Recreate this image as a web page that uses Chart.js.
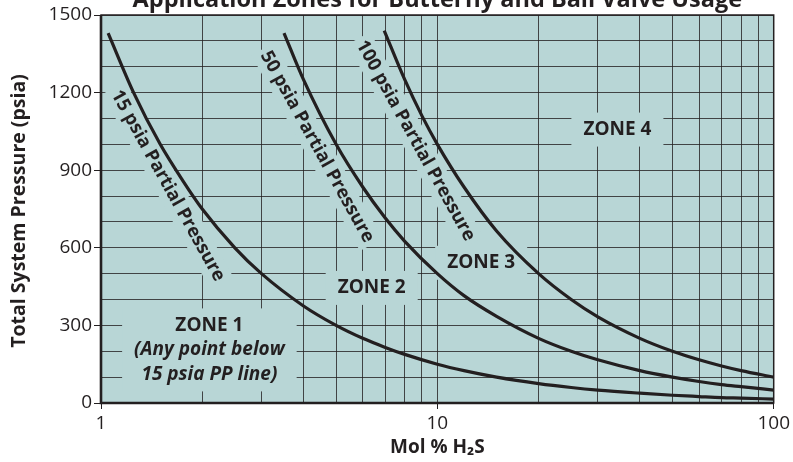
<!DOCTYPE html>
<html>
<head>
<meta charset="utf-8">
<script src="https://cdn.jsdelivr.net/npm/chart.js@4"></script>
<style>
  html, body { margin: 0; padding: 0; background: #fff; }
  #wrap { width: 793px; height: 462px; }
</style>
</head>
<body>
<div id="wrap"><canvas id="zones"></canvas></div>
<script>
// values (Mol % H2S vs total system pressure, psia)
const mol15 = [1.05, 1.25, 1.5, 1.75, 2, 2.5, 3, 4, 5, 6, 7, 8, 10, 12, 15, 20, 25, 30, 40, 50, 60, 70, 80, 100];
const psi15 = [1430, 1200, 1000, 860, 750, 600, 500, 375, 300, 250, 215, 188, 150, 125, 100, 75, 60, 50, 38, 30, 25, 21, 19, 15];

const mol50 = [3.5, 4, 5, 6, 7, 8, 10, 12, 15, 20, 25, 30, 40, 50, 60, 70, 80, 100];
const psi50 = [1430, 1250, 1000, 835, 715, 625, 500, 415, 335, 250, 200, 167, 125, 100, 83, 71, 63, 50];

const mol100 = [6.95, 8, 9, 10, 12, 15, 20, 25, 30, 40, 50, 60, 70, 80, 100];
const psi100 = [1440, 1250, 1110, 1000, 835, 665, 500, 400, 333, 250, 200, 167, 143, 125, 100];

const xGridTicks = [1, 2, 3, 4, 5, 6, 7, 8, 9, 10, 20, 30, 40, 50, 60, 70, 80, 90, 100];
const xLabelTicks = [1, 10, 100];
const yLabelStep = 300;

const curveLabels = [
  { text: "15 psia Partial Pressure", x: 1.58, y: 840 },
  { text: "50 psia Partial Pressure", x: 4.39, y: 990 },
  { text: "100 psia Partial Pressure", x: 8.61, y: 1014 }
];
const zoneLabels = [
  { lines: ["ZONE 4"], x: 34.3, y: 1057 },
  { lines: ["ZONE 3"], x: 13.5, y: 542 },
  { lines: ["ZONE 2"], x: 6.38, y: 445 },
  { lines: ["ZONE 1", "(Any point below", "15 psia PP line)"], x: 2.1, y: 300 }
];

const INK = "#231f20";
const BG = "#b8d6d6";
const FAMILY = "'Open Sans', 'Noto Sans', sans-serif";

const toPoints = (xs, ys) => xs.map((x, i) => ({ x: x, y: ys[i] }));

function lineSet(label, xs, ys) {
  return {
    label: label,
    data: toPoints(xs, ys),
    showLine: true,
    borderColor: INK,
    borderWidth: 3.2,
    pointRadius: 0,
    fill: false,
    cubicInterpolationMode: "monotone"
  };
}

// background, label boxes, labels, frame, titles
const decor = {
  id: "decor",
  beforeDraw(chart) {
    const a = chart.chartArea, ctx = chart.ctx;
    ctx.save();
    ctx.fillStyle = BG;
    ctx.fillRect(a.left, a.top, a.right - a.left, a.bottom - a.top);
    ctx.restore();
  },
  beforeDatasetsDraw(chart) {
    drawLabels(chart, true);
  },
  afterDatasetsDraw(chart) {
    drawLabels(chart, false);
  },
  afterDraw(chart) {
    const a = chart.chartArea, ctx = chart.ctx;
    ctx.save();
    ctx.strokeStyle = INK;
    ctx.lineWidth = 1.5;
    ctx.strokeRect(a.left, a.top, a.right - a.left, a.bottom - a.top);
    ctx.lineWidth = 2.6;
    ctx.beginPath();
    ctx.moveTo(a.left, a.top);
    ctx.lineTo(a.left, a.bottom);
    ctx.lineTo(a.right, a.bottom);
    ctx.stroke();

    ctx.fillStyle = INK;
    ctx.textAlign = "center";
    // chart title, cropped at the top edge as in the picture
    ctx.font = "bold 23.5px " + FAMILY;
    ctx.textBaseline = "alphabetic";
    ctx.fillText("Application Zones for Butterfly and Ball Valve Usage", (a.left + a.right) / 2, 7);

    // x title
    ctx.font = "bold 19px " + FAMILY;
    ctx.textBaseline = "middle";
    ctx.fillText("Mol % H\u2082S", (a.left + a.right) / 2, 448);

    // y title
    ctx.translate(19, 211);
    ctx.rotate(-Math.PI / 2);
    ctx.font = "bold 19.5px " + FAMILY;
    ctx.fillText("Total System Pressure (psia)", 0, 0);
    ctx.restore();
  }
};

function drawLabels(chart, boxesOnly) {
  const ctx = chart.ctx;
  const xs = chart.scales.x, ys = chart.scales.y;
  ctx.save();
  ctx.textAlign = "center";
  ctx.textBaseline = "middle";

  ctx.font = "bold 18.5px " + FAMILY;
  curveLabels.forEach(l => {
    const px = xs.getPixelForValue(l.x), py = ys.getPixelForValue(l.y);
    const w = ctx.measureText(l.text).width;
    ctx.save();
    ctx.translate(px, py);
    ctx.rotate(61 * Math.PI / 180);
    if (boxesOnly) {
      ctx.fillStyle = BG;
      ctx.fillRect(-w / 2 - 4, -13, w + 8, 26);
    } else {
      ctx.fillStyle = INK;
      ctx.fillText(l.text, 0, 0);
    }
    ctx.restore();
  });

  zoneLabels.forEach(z => {
    const px = xs.getPixelForValue(z.x), py = ys.getPixelForValue(z.y);
    const fonts = z.lines.map((t, i) => (i === 0 ? "bold 19px " : "italic bold 19px ") + FAMILY);
    let wMax = 0;
    z.lines.forEach((t, i) => {
      ctx.font = fonts[i];
      wMax = Math.max(wMax, ctx.measureText(t).width);
    });
    const lh = 24.5;
    if (boxesOnly) {
      ctx.fillStyle = BG;
      ctx.fillRect(px - wMax / 2 - 12, py - 17, wMax + 24, lh * (z.lines.length - 1) + 34);
    } else {
      ctx.fillStyle = INK;
      z.lines.forEach((t, i) => {
        ctx.font = fonts[i];
        ctx.fillText(t, px, py + i * lh);
      });
    }
  });
  ctx.restore();
}

new Chart(document.getElementById("zones"), {
  type: "scatter",
  data: {
    datasets: [
      lineSet("15 psia", mol15, psi15),
      lineSet("50 psia", mol50, psi50),
      lineSet("100 psia", mol100, psi100)
    ]
  },
  options: {
    responsive: true,
    maintainAspectRatio: false,
    animation: false,
    layout: { padding: { left: 0, right: 16, top: 15, bottom: 0 } },
    plugins: {
      legend: { display: false },
      tooltip: { enabled: false }
    },
    scales: {
      x: {
        type: "logarithmic",
        min: 1,
        max: 100,
        afterBuildTicks: s => { s.ticks = xGridTicks.map(v => ({ value: v })); },
        afterFit: s => { s.height = 59; },
        ticks: {
          autoSkip: false,
          maxRotation: 0,
          padding: 3,
          color: INK,
          font: { family: FAMILY, size: 19 },
          callback: v => xLabelTicks.includes(v) ? String(v) : ""
        },
        grid: {
          color: "rgba(35,31,32,0.8)",
          lineWidth: 1,
          tickLength: 6,
          tickColor: c => (c.tick && xLabelTicks.includes(c.tick.value)) ? INK : "rgba(0,0,0,0)"
        },
        border: { display: false }
      },
      y: {
        min: 0,
        max: 1500,
        afterFit: s => { s.width = 101; },
        ticks: {
          stepSize: 100,
          autoSkip: false,
          padding: 2,
          color: INK,
          font: { family: FAMILY, size: 19 },
          callback: v => v % yLabelStep === 0 ? String(v) : ""
        },
        grid: {
          color: "rgba(35,31,32,0.8)",
          lineWidth: 1,
          tickLength: 7,
          tickColor: c => (c.tick && c.tick.value % yLabelStep === 0) ? INK : "rgba(0,0,0,0)"
        },
        border: { display: false }
      }
    }
  },
  plugins: [decor]
});
</script>
</body>
</html>
